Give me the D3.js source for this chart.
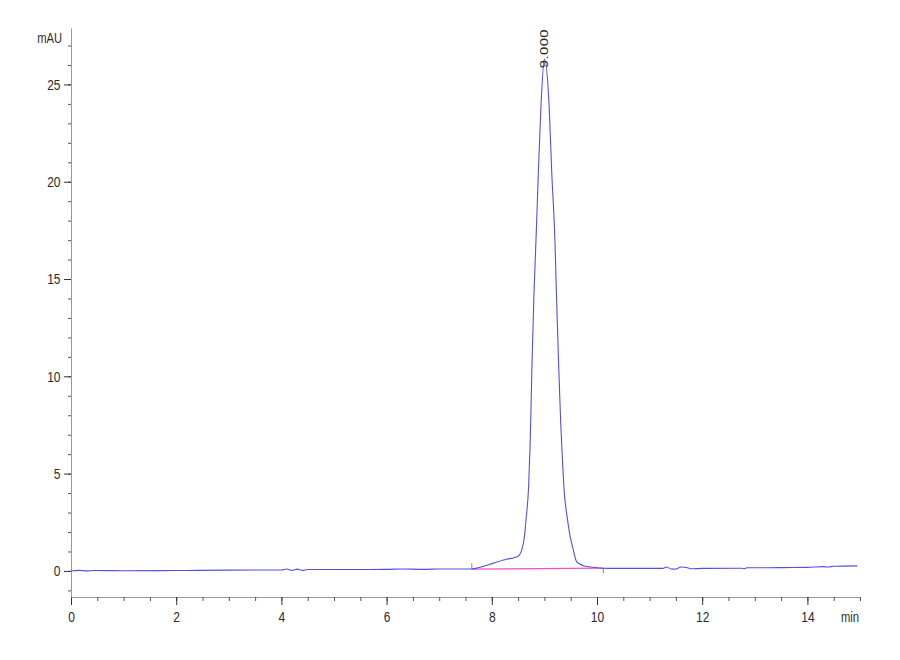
<!DOCTYPE html>
<html>
<head>
<meta charset="utf-8">
<script src="https://cdn.jsdelivr.net/npm/d3@7"></script>
<style>
  body { margin: 0; background: #fff; }
  svg text { font-family: "Liberation Sans", Arial, sans-serif; fill: #2a2a2a; }
</style>
</head>
<body>
<svg id="chart" width="900" height="660"></svg>
<script>
// chromatogram trace (min, mAU)
var times = [0, 0.15, 0.3, 0.45, 1.0, 2.0, 2.4, 3.0, 4.0, 4.1, 4.2, 4.3, 4.4, 4.5, 5.0, 6.0, 6.3, 6.7, 7.0, 7.5,
  7.62, 7.78, 8.03, 8.28, 8.45, 8.52, 8.57, 8.62, 8.65, 8.70, 8.73, 8.765, 8.80, 8.84, 8.885, 8.935, 9.0,
  9.09, 9.14, 9.20, 9.23, 9.27, 9.31, 9.34, 9.37, 9.44, 9.49, 9.55, 9.61, 9.74, 9.93, 10.12,
  10.3, 11.0, 11.25, 11.32, 11.42, 11.5, 11.6, 11.7, 11.78, 12.0, 12.75, 12.8, 12.85, 13.5, 14.0, 14.3, 14.4, 14.5, 14.95];
var signal = [0.0, 0.03, 0.0, 0.02, 0.01, 0.02, 0.03, 0.04, 0.05, 0.10, 0.03, 0.09, 0.02, 0.07, 0.07, 0.08, 0.10, 0.08, 0.10, 0.10,
  0.10, 0.19, 0.40, 0.60, 0.70, 0.80, 1.08, 1.76, 2.62, 4.34, 6.6, 10.68, 14.1, 17.0, 20.45, 23.9, 26.3,
  23.9, 20.45, 17.0, 14.1, 10.68, 7.6, 5.9, 4.34, 2.62, 1.76, 1.08, 0.48, 0.27, 0.19, 0.14,
  0.13, 0.13, 0.13, 0.20, 0.09, 0.10, 0.20, 0.18, 0.11, 0.13, 0.14, 0.11, 0.16, 0.17, 0.18, 0.22, 0.20, 0.24, 0.26];

// integration baseline under the peak
var baseTimes = [7.62, 10.12];
var baseValues = [0.09, 0.14];

var peakTimes = [9.0];
var peakHeights = [26.3];
var peakLabels = ['9.000'];

var xTicks = [0, 2, 4, 6, 8, 10, 12, 14];
var yTicks = [0, 5, 10, 15, 20, 25];

// the original uses a narrow face, squeeze text horizontally
var narrow = 0.8;

var svg = d3.select('#chart');
var x = d3.scaleLinear().domain([0, 15]).range([71, 860]);
var y = d3.scaleLinear().domain([-1.34, 27.9]).range([597, 28]);

// minor ticks first, majors on top
svg.append('g').attr('transform', 'translate(0,597)')
  .call(d3.axisBottom(x).tickValues(d3.range(0, 15.01, 0.5)).tickSize(4).tickSizeOuter(0).tickFormat(''))
  .call(function(g) { g.select('.domain').attr('stroke', '#999'); g.selectAll('line').attr('stroke', '#555'); });
svg.append('g').attr('transform', 'translate(0,597)')
  .call(d3.axisBottom(x).tickValues(xTicks).tickSize(8).tickSizeOuter(0).tickPadding(6))
  .call(function(g) {
    g.select('.domain').remove();
    g.selectAll('line').attr('stroke', '#333');
    g.selectAll('text').attr('font-size', 15).attr('font-family', null)
      .attr('transform', 'scale(' + narrow + ',1)');
  });

svg.append('g').attr('transform', 'translate(71,0)')
  .call(d3.axisLeft(y).tickValues(d3.range(-1, 28, 1)).tickSize(3).tickSizeOuter(0).tickFormat(''))
  .call(function(g) { g.select('.domain').attr('stroke', '#999'); g.selectAll('line').attr('stroke', '#555'); });
svg.append('g').attr('transform', 'translate(71,0)')
  .call(d3.axisLeft(y).tickValues(yTicks).tickSize(7).tickSizeOuter(0).tickPadding(3))
  .call(function(g) {
    g.select('.domain').remove();
    g.selectAll('line').attr('stroke', '#333');
    g.selectAll('text').attr('font-size', 15).attr('font-family', null)
      .attr('x', -10.5 / narrow)
      .attr('transform', 'scale(' + narrow + ',1)');
  });

svg.append('text').attr('transform', 'translate(62,43) scale(' + narrow + ',1)')
  .attr('text-anchor', 'end').attr('font-size', 14).attr('fill', '#444').text('mAU');
svg.append('text').attr('transform', 'translate(859,622) scale(' + narrow + ',1)')
  .attr('text-anchor', 'end').attr('font-size', 14).attr('fill', '#444').text('min');

// baseline and its start / end markers
svg.append('line')
  .attr('x1', x(baseTimes[0])).attr('y1', y(baseValues[0]))
  .attr('x2', x(baseTimes[1])).attr('y2', y(baseValues[1]))
  .attr('stroke', '#f050d0').attr('stroke-width', 1.2);
svg.append('line')
  .attr('x1', x(baseTimes[0])).attr('x2', x(baseTimes[0]))
  .attr('y1', y(baseValues[0])).attr('y2', y(baseValues[0]) - 6)
  .attr('stroke', '#888');
svg.append('line')
  .attr('x1', x(baseTimes[1])).attr('x2', x(baseTimes[1]))
  .attr('y1', y(baseValues[1])).attr('y2', y(baseValues[1]) + 5)
  .attr('stroke', '#888');

var line = d3.line()
  .x(function(d, i) { return x(times[i]); })
  .y(function(d) { return y(d); })
  .curve(d3.curveMonotoneX);
svg.append('path').datum(signal)
  .attr('d', line)
  .attr('fill', 'none')
  .attr('stroke', '#5050e6')
  .attr('stroke-width', 1.1);

// retention time label, written upwards above the apex
svg.selectAll('.peak').data(peakTimes).enter().append('text')
  .attr('class', 'peak')
  .attr('transform', function(d, i) {
    return 'translate(' + (x(d) + 4) + ',' + (y(peakHeights[i]) + 9) + ') rotate(-90) scale(1.35,1)';
  })
  .attr('font-size', 11).attr('letter-spacing', 0.3).attr('fill', '#222')
  .text(function(d, i) { return peakLabels[i]; });
</script>
</body>
</html>
